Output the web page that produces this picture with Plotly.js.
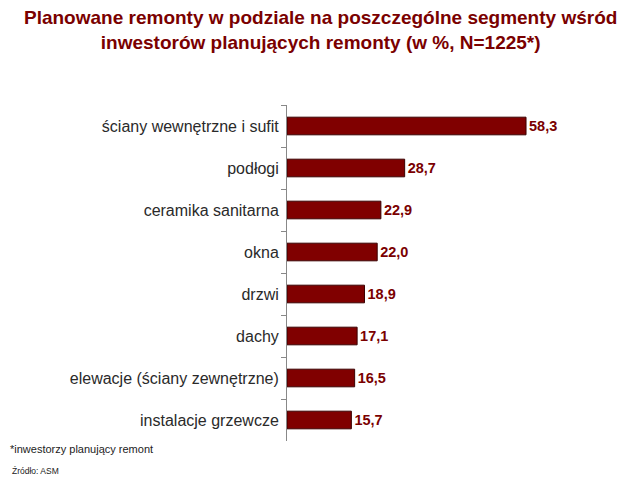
<!DOCTYPE html>
<html><head><meta charset="utf-8">
<script src="https://cdn.plot.ly/plotly-3.0.1.min.js"></script>
<style>html,body{margin:0;padding:0;background:#fff}#c{width:640px;height:487px}</style>
</head><body><div id="c"></div>
<script>
const categories = ["ściany wewnętrzne i sufit","podłogi","ceramika sanitarna","okna","drzwi","dachy","elewacje (ściany zewnętrzne)","instalacje grzewcze"];
const values = [58.3,28.7,22.9,22.0,18.9,17.1,16.5,15.7];
const labels = values.map(v => v.toFixed(1).replace('.', ','));
const titleText = '<b>Planowane remonty w podziale na poszczególne segmenty wśród<br>inwestorów planujących remonty (w %, N=1225*)</b>';
const F = 'Liberation Sans, Arial, sans-serif';
const L = 287, PW = 328, PH = 336;

const trace = {
  type: 'bar', orientation: 'h',
  y: categories, x: values,
  text: labels, textposition: 'outside', cliponaxis: false,
  textfont: {family: F, size: 14.5, color: '#7a0000', weight: 'bold'},
  marker: {color: '#800000', line: {color: '#3a0000', width: 1}},
  width: 0.42, hoverinfo: 'none'
};
const layout = {
  width: 640, height: 487,
  margin: {l: L, r: 640 - L - PW, t: 105, b: 487 - 105 - PH},
  paper_bgcolor: '#fff', plot_bgcolor: '#fff',
  showlegend: false,
  xaxis: {range: [0, 80], visible: false, fixedrange: true},
  yaxis: {type: 'category', autorange: 'reversed', showline: true, linecolor: '#888', linewidth: 1,
          ticks: 'outside', tickson: 'boundaries', ticklen: 5, tickcolor: '#888',
          tickfont: {family: F, size: 16, color: '#2a2a2a'},
          ticklabelstandoff: 4, showgrid: false, zeroline: false},
  annotations: [
    {text: titleText, xref: 'paper', yref: 'paper', x: (320 - L) / PW, y: 1 + (105 - 5) / PH, yanchor: 'top', xanchor: 'center',
     showarrow: false, align: 'center',
     font: {family: F, size: 19, color: '#7a0000'}},
    {text: '*inwestorzy planujący remont', xref: 'paper', yref: 'paper', x: -L / PW, y: 0, xanchor: 'left', yanchor: 'top', showarrow: false,
     font: {family: F, size: 11, color: '#222'}, xshift: 8, yshift: 0},
    {text: 'Źródło: ASM', xref: 'paper', yref: 'paper', x: -L / PW, y: 0, xanchor: 'left', yanchor: 'top', showarrow: false,
     font: {family: F, size: 8.5, color: '#222'}, xshift: 10, yshift: -23}
  ]
};
Plotly.newPlot('c', [trace], layout, {displayModeBar: false, staticPlot: true});
</script></body></html>
